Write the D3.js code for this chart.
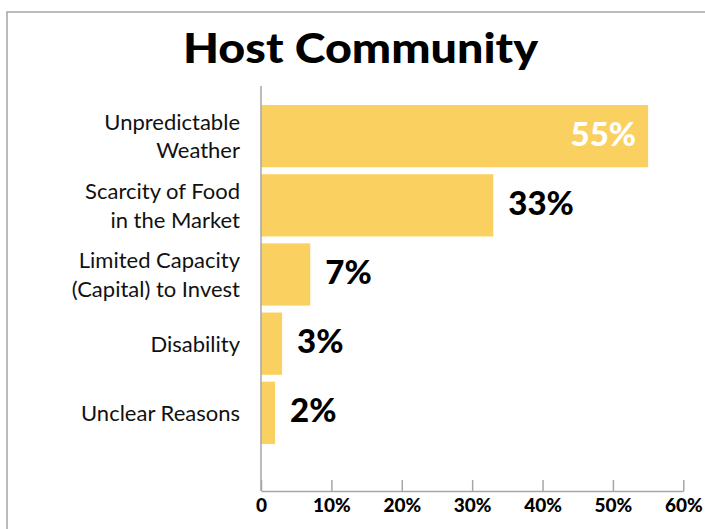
<!DOCTYPE html>
<html>
<head>
<meta charset="utf-8">
<script src="https://cdn.jsdelivr.net/npm/d3@7"></script>
<style>
  html, body { margin: 0; padding: 0; background: #fff; }
  svg { display: block; }
</style>
</head>
<body>
<svg id="chart" width="705" height="529"></svg>
<script>
const title = "Host Community";
const categories = [
  ["Unpredictable", "Weather"],
  ["Scarcity of Food", "in the Market"],
  ["Limited Capacity", "(Capital) to Invest"],
  ["Disability"],
  ["Unclear Reasons"]
];
const values = [55, 33, 7, 3, 2];
const tickValues = [0, 10, 20, 30, 40, 50, 60];
const tickLabels = ["0", "10%", "20%", "30%", "40%", "50%", "60%"];

const svg = d3.select("#chart");
const W = 705, H = 529;
const barColor = "#FAD160";
const axisColor = "#A6A6A6";
const font = "Lato, 'Open Sans', sans-serif";

// frame
svg.append("rect")
  .attr("x", 7).attr("y", 12)
  .attr("width", W + 20).attr("height", H + 20)
  .attr("fill", "none").attr("stroke", "#ABABAB").attr("stroke-width", 1.6);

// title
svg.append("text")
  .attr("x", 360.5).attr("y", 63)
  .attr("text-anchor", "middle")
  .attr("font-family", font).attr("font-weight", 900)
  .attr("font-size", 41).attr("fill", "#000")
  .attr("textLength", 355).attr("lengthAdjust", "spacingAndGlyphs")
  .text(title);

const x = d3.scaleLinear().domain([0, 60]).range([261, 683.3]);
const y = d3.scaleBand().domain(d3.range(categories.length))
  .range([101.6, 447.4]).paddingInner(0.1).paddingOuter(0.05);

// bars
svg.append("g").selectAll("rect").data(values).join("rect")
  .attr("x", x(0)).attr("y", (d, i) => y(i))
  .attr("width", d => x(d) - x(0)).attr("height", y.bandwidth())
  .attr("fill", barColor);

// vertical axis line
svg.append("line")
  .attr("x1", x(0)).attr("x2", x(0)).attr("y1", 86).attr("y2", 491)
  .attr("stroke", axisColor).attr("stroke-width", 1.5);

// bottom axis
const xAxis = d3.axisBottom(x).tickValues(tickValues)
  .tickFormat((d, i) => tickLabels[i])
  .tickSizeInner(-11).tickSizeOuter(0).tickPadding(8);
const gx = svg.append("g").attr("transform", "translate(0,491)").call(xAxis);
gx.select(".domain").attr("stroke", axisColor).attr("stroke-width", 1.5);
gx.selectAll(".tick line").attr("stroke", axisColor).attr("stroke-width", 1.5);
gx.selectAll(".tick text")
  .attr("font-family", font).attr("font-weight", 900)
  .attr("font-size", 19).attr("fill", "#000");

// category labels
const lineH = 28.5;
const catG = svg.append("g");
categories.forEach((lines, i) => {
  const cy = y(i) + y.bandwidth() / 2;
  const t = catG.append("text")
    .attr("text-anchor", "end")
    .attr("font-family", font).attr("font-size", 22).attr("fill", "#111");
  const n = lines.length;
  lines.forEach((ln, j) => {
    t.append("tspan")
      .attr("x", 240)
      .attr("y", cy + 8 + (j - (n - 1) / 2) * lineH)
      .text(ln);
  });
});

// value labels
svg.append("g").selectAll("text").data(values).join("text")
  .attr("x", (d, i) => i === 0 ? x(d) - 12 : x(d) + 15)
  .attr("y", (d, i) => y(i) + y.bandwidth() / 2 + 9.5)
  .attr("text-anchor", (d, i) => i === 0 ? "end" : "start")
  .attr("font-family", font).attr("font-weight", 900)
  .attr("font-size", 33)
  .attr("fill", (d, i) => i === 0 ? "#fff" : "#000")
  .text(d => d + "%");
</script>
</body>
</html>
